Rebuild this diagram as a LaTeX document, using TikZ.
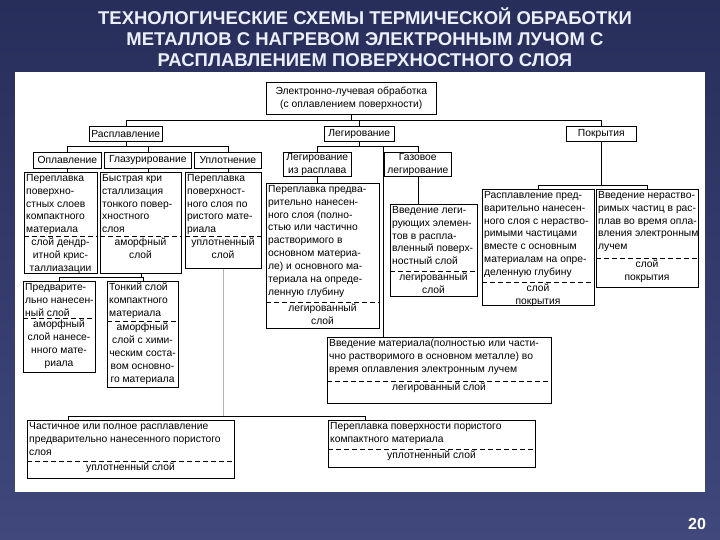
\documentclass[tikz,border=0pt]{standalone}
\usepackage{fontspec}
\setmainfont{Liberation Sans}
\usetikzlibrary{calc}
\definecolor{slide}{RGB}{64,72,124}
\definecolor{slidedark}{RGB}{40,46,90}
\definecolor{titlec}{RGB}{235,240,255}
\tikzset{
 box/.style={draw=black,line width=0.6pt,fill=white,inner sep=0pt},
 txt/.style={font=\fontsize{10.3}{12.9}\selectfont,inner sep=0pt,align=left},
 ctxt/.style={font=\fontsize{10.3}{12.9}\selectfont,inner sep=0pt,align=center},
 conn/.style={draw=black,line width=0.6pt},
 faint/.style={draw=black!30,line width=0.8pt},
 sep/.style={dashed,dash pattern=on 5pt off 3pt,line width=0.5pt},
 ttl/.style={text=titlec,font=\fontsize{18.5}{21}\selectfont\bfseries,align=center}
}
\newcommand\hb[6]{\node[box,ctxt,anchor=north west,minimum width={(#4-#2)*1pt},minimum height={(#5-#3)*1pt}] (#1) at (#2,#3) {#6};}
\newcommand\db[8]{%
 \node[box,anchor=north west,minimum width={(#4-#2)*1pt},minimum height={(#5-#3)*1pt}] (#1) at (#2,#3) {};
 \node[txt,anchor=north west] (#1u) at (#2+2,#3+2) {#7};
 \draw[sep] (#2,#6) -- (#4,#6);
 \node[ctxt,anchor=north] (#1l) at ({(#2+#4)/2},#6+2) {#8};}
\begin{document}
\begin{tikzpicture}[x=1pt,y=-1pt]
\useasboundingbox (0,0) rectangle (720,540);
\shade[top color=slidedark,bottom color=slide] (0,0) rectangle (720,540);
\fill[white] (15,72) rectangle (705,492);
\node[ttl] (title) at (365,37) {ТЕХНОЛОГИЧЕСКИЕ СХЕМЫ ТЕРМИЧЕСКОЙ ОБРАБОТКИ\\МЕТАЛЛОВ С НАГРЕВОМ ЭЛЕКТРОННЫМ ЛУЧОМ С\\РАСПЛАВЛЕНИЕМ ПОВЕРХНОСТНОГО СЛОЯ};
\node[text=white,font=\fontsize{16}{18}\selectfont\bfseries] (pg) at (697,524) {20};

\hb{root}{266}{82}{436}{114}{Электронно-лучевая обработка\\(с оплавлением поверхности)}
\hb{rasp}{89}{126}{162}{141}{Расплавление}
\hb{leg}{324}{126}{394}{141}{Легирование}
\hb{pokr}{566}{126}{636}{141}{Покрытия}
\hb{opl}{33}{152}{101}{168}{Оплавление}
\hb{glaz}{104}{152}{191}{168}{Глазурирование}
\hb{upl}{194}{152}{261}{168}{Уплотнение}
\hb{lras}{283}{152}{351}{176}{Легирование\\из расплава}
\hb{gaz}{384}{152}{451}{176}{Газовое\\легирование}

\db{pov}{24}{172}{97}{273}{236}{Переплавка\\поверхно-\\стных слоев\\компактного\\материала}{слой дендр-\\итной крис-\\таллиазации}
\db{bys}{100}{172}{181}{273}{236}{Быстрая кри\\сталлизация\\тонкого повер-\\хностного\\слоя}{аморфный\\слой}
\db{uplD}{185}{172}{261}{268}{236}{Переплавка\\поверхност-\\ного слоя по\\ристого мате-\\риала}{уплотненный\\слой}
\db{pred}{23}{281}{95}{372}{318}{Предварите-\\льно нанесен-\\ный слой}{аморфный\\слой нанесе-\\нного мате-\\риала}
\db{ton}{107}{281}{178}{387}{321}{Тонкий слой\\компактного\\материала}{аморфный\\слой с хими-\\ческим соста-\\вом основно-\\го материала}
\db{perepl}{266}{183}{379}{328}{302}{Переплавка предва-\\рительно нанесен-\\ного слоя (полно-\\стью или частично\\растворимого в\\основном материа-\\ле) и основного ма-\\териала на опреде-\\ленную глубину}{легированный\\слой}
\db{vvleg}{390}{204}{477}{296}{271}{Введение леги-\\рующих элемен-\\тов в распла-\\вленный поверх-\\ностный слой}{легированный\\слой}
\db{rpr}{482}{189}{594}{305}{282}{Расплавление пред-\\варительно нанесен-\\ного слоя с нераство-\\римыми частицами\\вместе с основным\\материалам на опре-\\деленную глубину}{слой\\покрытия}
\db{vnr}{596}{189}{698}{287}{258}{Введение нераство-\\римых частиц в рас-\\плав во время опла-\\вления электронным\\лучем}{слой\\покрытия}
\db{vvmat}{327}{337}{551}{403}{381}{Введение материала(полностью или части-\\чно растворимого в основном металле) во\\время оплавления электронным лучем}{легированный слой}
\db{chast}{27}{420}{234}{478}{461}{Частичное или полное расплавление\\предварительно нанесенного пористого\\слоя}{уплотненный слой}
\db{perpov}{328}{420}{535}{467}{449}{Переплавка поверхности пористого\\компактного материала}{уплотненный слой}

% connectors
\draw[conn] (root.south) -- (root.south |- 0,120);
\draw[conn] (rasp.north) |- (pokr.north |- 0,120) -- (pokr.north);
\draw[conn] (leg.north) -- (leg.north |- 0,120);
\draw[conn] (rasp.south) -- (rasp.south |- 0,146);
\draw[conn] (opl.north) |- (upl.north |- 0,146) -- (upl.north);
\draw[conn] (glaz.north) -- (glaz.north |- 0,146);
\draw[conn] (opl.south) -- (opl.south |- pov.north);
\draw[conn] (glaz.south) -- (glaz.south |- bys.north);
\draw[conn] (upl.south) -- (upl.south |- uplD.north);
\draw[conn] (bys.south) -- (bys.south |- 0,277);
\draw[conn] (pred.north) |- (ton.north |- 0,277) -- (ton.north);
\draw[conn] (leg.south) -- (leg.south |- 0,146);
\draw[conn] (lras.north) |- (gaz.north |- 0,146) -- (gaz.north);
\draw[conn] (lras.south) -- (lras.south |- perepl.north);
\draw[conn] (gaz.south) -- (gaz.south |- vvleg.north);
\coordinate (k) at (383,146);
\draw[conn] (k) -- (k |- vvmat.north);
\draw[conn] (pokr.south) -- (pokr.south |- 0,185);
\draw[conn] (rpr.north) |- (vnr.north |- 0,185) -- (vnr.north);
\draw[faint] (uplD.south) -- (uplD.south |- 0,416);
\draw[conn] ($(chast.north west)+(41,0)$) -- ++(0,-4) -| ($(perpov.north west)+(37,0)$);
\end{tikzpicture}
\end{document}
